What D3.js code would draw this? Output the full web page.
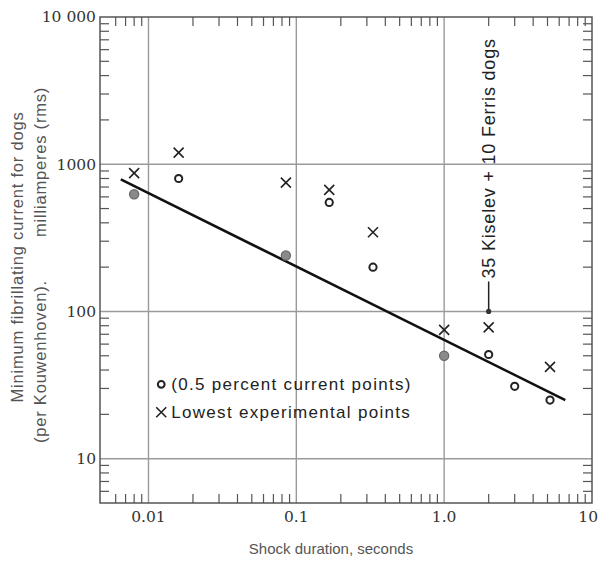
<!DOCTYPE html>
<html>
<head>
<meta charset="utf-8">
<script src="https://cdn.jsdelivr.net/npm/d3@7"></script>
<style>
  body { margin: 0; background: #fff; }
  svg { display: block; }
</style>
</head>
<body>
<div id="chart"></div>
<script>
// shock duration in seconds, for each column of points
const durations = [0.008, 0.016, 0.085, 0.167, 0.33, 1.0, 2.0, 3.0, 5.2];

// 0.5 percent current points (mA); null where there is none
const halfPercent = [625, 800, 240, 550, 200, 50, 51, 31, 25];
const halfPercentShaded = [true, false, true, false, false, true, false, false, false];

// lowest experimental points (mA)
const lowest = [870, 1200, 750, 670, 345, 75, 78, null, 42];

// fitted line end points
const fitLine = [
  { t: 0.0065, i: 790 },
  { t: 6.6, i: 25 },
];

// Kiselev / Ferris annotation
const kiselev = { t: 2.0, i: 100, label: "35 Kiselev + 10 Ferris dogs" };

const xTicks = [0.01, 0.1, 1, 10];
const xTickLabels = ["0.01", "0.1", "1.0", "10"];
const yTicks = [10, 100, 1000, 10000];
const yTickLabels = ["10", "100", "1000", "10 000"];

const legendItems = ["(0.5 percent current points)", "Lowest experimental points"];

const width = 600;
const height = 567;
const margin = { top: 17, right: 8, bottom: 64, left: 100 };
const innerWidth = width - margin.left - margin.right;
const innerHeight = height - margin.top - margin.bottom;

const SERIF = "'DejaVu Serif', serif";
const SANS = "'Liberation Sans', Arial, sans-serif";

const svg = d3
  .select("#chart")
  .append("svg")
  .attr("width", width)
  .attr("height", height);

const g = svg
  .append("g")
  .attr("transform", `translate(${margin.left},${margin.top})`);

const x = d3.scaleLog().domain([0.0047, 10]).range([0, innerWidth]);
const y = d3.scaleLog().domain([5, 10000]).range([innerHeight, 0]);

// minor ticks: 2..9 of each decade, keep clear of the frame edges
function minorTicks(scale) {
  const [lo, hi] = scale.domain();
  const out = [];
  for (let e = Math.floor(Math.log10(lo)); e <= Math.ceil(Math.log10(hi)); e++) {
    for (let m = 2; m <= 9; m++) {
      const v = m * Math.pow(10, e);
      if (v > lo && v < hi) out.push(v);
    }
  }
  return out;
}

const xMinor = minorTicks(x).filter((v) => x(v) > 8 && x(v) < innerWidth - 3);
const yMinor = minorTicks(y).filter((v) => y(v) > 3 && y(v) < innerHeight - 3);

// decade grid
g.append("g")
  .selectAll("line")
  .data(xTicks.slice(0, 3))
  .join("line")
  .attr("x1", (d) => x(d))
  .attr("x2", (d) => x(d))
  .attr("y1", 0)
  .attr("y2", innerHeight)
  .attr("stroke", "#9a9a9a")
  .attr("stroke-width", 1.4);

g.append("g")
  .selectAll("line")
  .data(yTicks.slice(0, 3))
  .join("line")
  .attr("x1", 0)
  .attr("x2", innerWidth)
  .attr("y1", (d) => y(d))
  .attr("y2", (d) => y(d))
  .attr("stroke", "#9a9a9a")
  .attr("stroke-width", 1.4);

// minor ticks on the four sides, pointing inward
const tickLen = 9;
const tickColor = "#555";
const ticks = g.append("g").attr("stroke", tickColor).attr("stroke-width", 1.2);

ticks.selectAll(".tb").data(xMinor).join("line")
  .attr("x1", (d) => x(d)).attr("x2", (d) => x(d))
  .attr("y1", innerHeight).attr("y2", innerHeight - tickLen);
ticks.selectAll(".tt").data(xMinor).join("line")
  .attr("x1", (d) => x(d)).attr("x2", (d) => x(d))
  .attr("y1", 0).attr("y2", tickLen);
ticks.selectAll(".tl").data(yMinor).join("line")
  .attr("x1", 0).attr("x2", tickLen)
  .attr("y1", (d) => y(d)).attr("y2", (d) => y(d));
ticks.selectAll(".tr").data(yMinor).join("line")
  .attr("x1", innerWidth).attr("x2", innerWidth - tickLen)
  .attr("y1", (d) => y(d)).attr("y2", (d) => y(d));

// frame
g.append("rect")
  .attr("width", innerWidth)
  .attr("height", innerHeight)
  .attr("fill", "none")
  .attr("stroke", "#555")
  .attr("stroke-width", 1.5);

// tick labels
g.append("g")
  .selectAll("text")
  .data(yTicks)
  .join("text")
  .attr("x", -4)
  .attr("y", (d) => y(d))
  .attr("dy", "0.35em")
  .attr("text-anchor", "end")
  .attr("font-family", SERIF)
  .attr("font-size", 15.5)
  .attr("fill", "#333")
  .text((d, i) => yTickLabels[i]);

g.append("g")
  .selectAll("text")
  .data(xTicks)
  .join("text")
  .attr("x", (d) => x(d))
  .attr("y", innerHeight + 19)
  .attr("text-anchor", (d, i) => (i === xTicks.length - 1 ? "end" : "middle"))
  .attr("dx", (d, i) => (i === xTicks.length - 1 ? 6 : 0))
  .attr("font-family", SERIF)
  .attr("font-size", 15.5)
  .attr("fill", "#333")
  .text((d, i) => xTickLabels[i]);

// axis titles
svg.append("text")
  .attr("x", 331)
  .attr("y", 554)
  .attr("text-anchor", "middle")
  .attr("font-family", SANS)
  .attr("font-size", 15)
  .attr("fill", "#555")
  .text("Shock duration, seconds");

svg.append("text")
  .attr("transform", "translate(23,257) rotate(-90)")
  .attr("text-anchor", "middle")
  .attr("font-family", SANS)
  .attr("font-size", 16.5)
  .attr("letter-spacing", 0.8)
  .attr("fill", "#555")
  .text("Minimum fibrillating current for dogs");

svg.append("text")
  .attr("transform", "translate(46,265) rotate(-90)")
  .attr("text-anchor", "middle")
  .attr("font-family", SANS)
  .attr("font-size", 16.5)
  .attr("letter-spacing", 0.8)
  .attr("fill", "#555")
  .attr("xml:space", "preserve")
  .style("white-space", "pre")
  .text("(per Kouwenhoven).        milliamperes (rms)");

// fitted line
g.append("line")
  .attr("x1", x(fitLine[0].t))
  .attr("y1", y(fitLine[0].i))
  .attr("x2", x(fitLine[1].t))
  .attr("y2", y(fitLine[1].i))
  .attr("stroke", "#111")
  .attr("stroke-width", 2.6);

// crosses
const crossSize = 5;
const crossPts = durations
  .map((t, i) => ({ t, v: lowest[i] }))
  .filter((d) => d.v != null);

function cross(sel, cx, cy) {
  sel.append("path")
    .attr("d", `M${cx - crossSize},${cy - crossSize}L${cx + crossSize},${cy + crossSize}M${cx - crossSize},${cy + crossSize}L${cx + crossSize},${cy - crossSize}`)
    .attr("stroke", "#222")
    .attr("stroke-width", 1.6)
    .attr("fill", "none");
}

const crossG = g.append("g");
crossPts.forEach((d) => cross(crossG, x(d.t), y(d.v)));

// circles
g.append("g")
  .selectAll("circle")
  .data(durations.map((t, i) => ({ t, v: halfPercent[i], shaded: halfPercentShaded[i] })).filter((d) => d.v != null))
  .join("circle")
  .attr("cx", (d) => x(d.t))
  .attr("cy", (d) => y(d.v))
  .attr("r", (d) => (d.shaded ? 4.6 : 3.6))
  .attr("fill", (d) => (d.shaded ? "#8a8a8a" : "#fff"))
  .attr("stroke", (d) => (d.shaded ? "#666" : "#222"))
  .attr("stroke-width", (d) => (d.shaded ? 1.2 : 2));

// Kiselev / Ferris annotation
const kx = x(kiselev.t);
const ky = y(kiselev.i);
g.append("line")
  .attr("x1", kx).attr("x2", kx)
  .attr("y1", ky).attr("y2", ky - 30)
  .attr("stroke", "#222")
  .attr("stroke-width", 1.5);
g.append("circle")
  .attr("cx", kx).attr("cy", ky)
  .attr("r", 2.6)
  .attr("fill", "#333");
g.append("text")
  .attr("transform", `translate(${kx + 6},${ky - 33}) rotate(-90)`)
  .attr("text-anchor", "start")
  .attr("font-family", SANS)
  .attr("font-size", 18)
  .attr("fill", "#222")
  .attr("letter-spacing", 0.8)
  .text(kiselev.label);

// legend
const legend = g.append("g").attr("transform", `translate(${x(0.0122)},${y(32)})`);
legend.append("circle")
  .attr("cx", 0).attr("cy", 0).attr("r", 3.4)
  .attr("fill", "#fff").attr("stroke", "#222").attr("stroke-width", 2);
cross(legend.append("g"), 0, 28);
legend.selectAll("text")
  .data(legendItems)
  .join("text")
  .attr("x", 10)
  .attr("y", (d, i) => i * 28)
  .attr("dy", "0.35em")
  .attr("font-family", SANS)
  .attr("font-size", 17)
  .attr("letter-spacing", 1.3)
  .attr("fill", "#222")
  .text((d) => d);
</script>
</body>
</html>
